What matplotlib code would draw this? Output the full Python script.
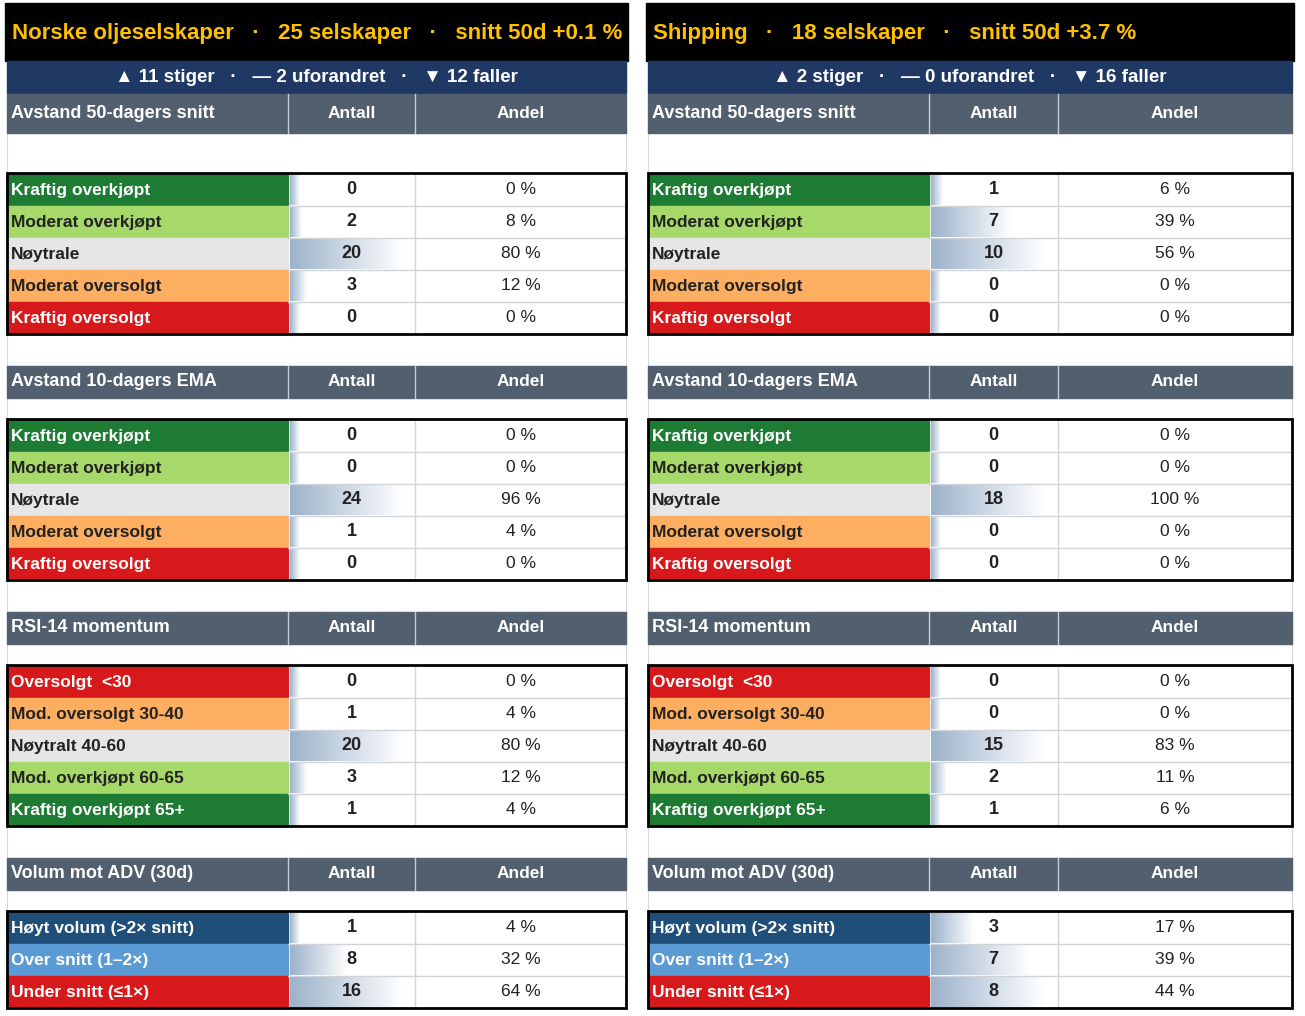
import matplotlib
matplotlib.use("Agg")
import matplotlib.pyplot as plt
import numpy as np
from matplotlib.patches import Rectangle

plt.rcParams['font.family'] = ['Liberation Sans', 'DejaVu Sans']

panel_titles = ["Norske oljeselskaper   ·   25 selskaper   ·   snitt 50d +0.1 %",
                "Shipping   ·   18 selskaper   ·   snitt 50d +3.7 %"]
panel_subtitles = ["▲ 11 stiger   ·   — 2 uforandret   ·   ▼ 12 faller",
                   "▲ 2 stiger   ·   — 0 uforandret   ·   ▼ 16 faller"]
section_titles = ["Avstand 50-dagers snitt", "Avstand 10-dagers EMA", "RSI-14 momentum", "Volum mot ADV (30d)"]
labels_trend = ["Kraftig overkjøpt", "Moderat overkjøpt", "Nøytrale", "Moderat oversolgt", "Kraftig oversolgt"]
labels_rsi = ["Oversolgt  <30", "Mod. oversolgt 30-40", "Nøytralt 40-60", "Mod. overkjøpt 60-65", "Kraftig overkjøpt 65+"]
labels_vol = ["Høyt volum (>2× snitt)", "Over snitt (1–2×)", "Under snitt (≤1×)"]

left_50 = [0, 2, 20, 3, 0];   left_50_pct = [0, 8, 80, 12, 0]
left_ema = [0, 0, 24, 1, 0];  left_ema_pct = [0, 0, 96, 4, 0]
left_rsi = [0, 1, 20, 3, 1];  left_rsi_pct = [0, 4, 80, 12, 4]
left_vol = [1, 8, 16];        left_vol_pct = [4, 32, 64]
right_50 = [1, 7, 10, 0, 0];  right_50_pct = [6, 39, 56, 0, 0]
right_ema = [0, 0, 18, 0, 0]; right_ema_pct = [0, 0, 100, 0, 0]
right_rsi = [0, 0, 15, 2, 1]; right_rsi_pct = [0, 0, 83, 11, 6]
right_vol = [3, 7, 8];        right_vol_pct = [17, 39, 44]

DG, LG, NE, OR, RD, NV, LB = "#1e7b34", "#a6d96a", "#e6e6e6", "#fdae61", "#d7191c", "#1f4e79", "#5b9bd5"
trend_colors = [DG, LG, NE, OR, RD]
rsi_colors = [RD, OR, NE, LG, DG]
vol_colors = [NV, LB, RD]
dark_bg = {DG, RD, NV, LB}

panels = [
    dict(x=[7, 288, 415, 626], data=[(left_50, left_50_pct), (left_ema, left_ema_pct), (left_rsi, left_rsi_pct), (left_vol, left_vol_pct)]),
    dict(x=[648, 929, 1058, 1292], data=[(right_50, right_50_pct), (right_ema, right_ema_pct), (right_rsi, right_rsi_pct), (right_vol, right_vol_pct)]),
]
sec_header = [(94, 133), (366, 398), (612, 644), (858, 890)]
sec_rows0 = [174, 420, 666, 912]
sec_labels = [labels_trend, labels_trend, labels_rsi, labels_vol]
sec_colors = [trend_colors, trend_colors, rsi_colors, vol_colors]
RH = 32

fig = plt.figure(figsize=(13.05, 10.16), dpi=100)
ax = fig.add_axes([0, 0, 1, 1])
ax.set_xlim(0, 1305); ax.set_ylim(1016, 0); ax.axis('off')
grad = np.linspace(0, 1, 256)[None, :]
from matplotlib.colors import LinearSegmentedColormap
cmap = LinearSegmentedColormap.from_list("g", ["#9cb2cb", "#ffffff"])

for pi, p in enumerate(panels):
    x0, x1, x2, x3 = p['x']
    ax.add_patch(Rectangle((x0 - 2, 3), x3 - x0 + 4, 58, color="black"))
    ax.text(x0 + 5, 33, panel_titles[pi], color="#ffc000", fontsize=16, fontweight='bold', va='center', ha='left')
    ax.add_patch(Rectangle((x0, 61), x3 - x0, 32, color="#1f3864"))
    ax.text((x0 + x3) / 2, 77, panel_subtitles[pi], color="white", fontsize=13.5, fontweight='bold', va='center', ha='center')
    for si in range(4):
        h0, h1 = sec_header[si]
        ax.add_patch(Rectangle((x0, h0), x3 - x0, h1 - h0, color="#525f6e"))
        for xc in (x1, x2):
            ax.plot([xc, xc], [h0, h1], color="#c8ccd2", lw=1)
        hy = (h0 + h1) / 2
        ax.text(x0 + 4, hy, section_titles[si], color="white", fontsize=13, fontweight='bold', va='center')
        ax.text((x1 + x2) / 2, hy, "Antall", color="white", fontsize=12.5, fontweight='bold', va='center', ha='center')
        ax.text((x2 + x3) / 2, hy, "Andel", color="white", fontsize=12.5, fontweight='bold', va='center', ha='center')
        counts, pcts = p['data'][si]
        mx = max(max(counts), 1)
        r0 = sec_rows0[si]
        n = len(counts)
        for ri in range(n):
            y = r0 + ri * RH
            c = sec_colors[si][ri]
            ax.add_patch(Rectangle((x0, y), x1 - x0, RH, color=c))
            w = max(counts[ri] / mx * 113, 10) if counts[ri] > 0 else 10
            w = max(w, 10)
            ax.imshow(grad, cmap=cmap, extent=(x1 + 2, x1 + 2 + w, y + RH - 1, y + 1), aspect='auto', zorder=2)
            tc = "white" if c in dark_bg else "#222222"
            ax.text(x0 + 4, y + RH / 2, sec_labels[si][ri], color=tc, fontsize=12.5, fontweight='bold', va='center', zorder=3)
            ax.text((x1 + x2) / 2, y + RH / 2, str(counts[ri]), color="#222222", fontsize=13, fontweight='bold', va='center', ha='center', zorder=3)
            ax.text((x2 + x3) / 2, y + RH / 2, f"{pcts[ri]} %", color="#222222", fontsize=12.5, va='center', ha='center', zorder=3)
            if ri > 0:
                ax.plot([x1, x3], [y, y], color="#d0d3d8", lw=1, zorder=2.5)
        ax.plot([x2, x2], [r0, r0 + n * RH], color="#d0d3d8", lw=1, zorder=2.5)
        ax.add_patch(Rectangle((x0, r0 - 1), x3 - x0, n * RH + 1, fill=False, ec="black", lw=2, zorder=4))
    ax.plot([x3, x3], [133, 1008], color="#d8d8d8", lw=0.8, zorder=0)
    ax.plot([x0, x0], [133, 1008], color="#d8d8d8", lw=0.8, zorder=0)

fig.savefig("out.png", dpi=100, facecolor="white")
